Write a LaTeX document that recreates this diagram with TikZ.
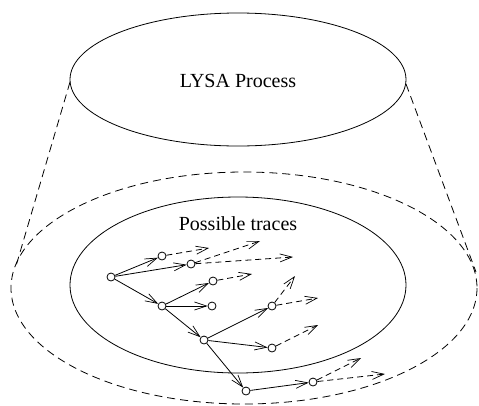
\documentclass[tikz,border=0pt]{standalone}
\usepackage{fontspec}
\setmainfont{Liberation Serif}
\usetikzlibrary{arrows.meta}
\begin{document}
\begin{tikzpicture}[x=1pt,y=-1pt,line width=0.8pt,
  state/.style={circle,draw,minimum size=8pt,inner sep=0pt},
  move/.style={-{Straight Barb[length=12pt,width=8pt,line width=0.7pt]}},
  later/.style={move,dash pattern=on 6pt off 4pt},
  outline/.style={dash pattern=on 8pt off 5pt},
  label/.style={font=\fontsize{20}{24}\selectfont}]
\useasboundingbox (0,0) rectangle (479,405);

% process and its trace space
\draw (238,79.5) ellipse [x radius=168,y radius=66.5];
\node[label] (lysa) at (238,81) {LYSA Process};
\draw[outline] (244,288) ellipse [x radius=233,y radius=116];
\draw[outline] (70,82) -- (16,266);
\draw[outline] (406,84) -- (476,272);
\draw (238,285) ellipse [x radius=168,y radius=88];
\node[label] (traces) at (238,224) {Possible traces};

% trace tree
\node[state] (n0) at (111,277) {};
\node[state] (n1) at (162,256) {};
\node[state] (n2) at (191,264) {};
\node[state] (n3) at (213,281) {};
\node[state] (n4) at (162,306) {};
\node[state] (n5) at (212,306) {};
\node[state] (n6) at (272,306) {};
\node[state] (n7) at (204,340) {};
\node[state] (n8) at (272,348) {};
\node[state] (n9) at (246,391) {};
\node[state] (n10) at (313,382) {};

\draw[move] (n0) -- (n1);
\draw[move] (n0) -- (n2);
\draw[move] (n0) -- (n4);
\draw[move] (n4) -- (n3);
\draw[move] (n4) -- (n5);
\draw[move] (n4) -- (n7);
\draw[move] (n7) -- (n6);
\draw[move] (n7) -- (n8);
\draw[move] (n7) -- (n9);
\draw[move] (n9) -- (n10);

% continuations
\coordinate (e1) at (209,248);
\coordinate (e2a) at (260,241);
\coordinate (e2b) at (293,257);
\coordinate (e3) at (252,274);
\coordinate (e6a) at (295,276);
\coordinate (e6b) at (318,298);
\coordinate (e8) at (318,325);
\coordinate (e10a) at (361,358);
\coordinate (e10b) at (385,374);
\draw[later] (n1) -- (e1);
\draw[later] (n2) -- (e2a);
\draw[later] (n2) -- (e2b);
\draw[later] (n3) -- (e3);
\draw[later] (n6) -- (e6a);
\draw[later] (n6) -- (e6b);
\draw[later] (n8) -- (e8);
\draw[later] (n10) -- (e10a);
\draw[later] (n10) -- (e10b);
\end{tikzpicture}
\end{document}
